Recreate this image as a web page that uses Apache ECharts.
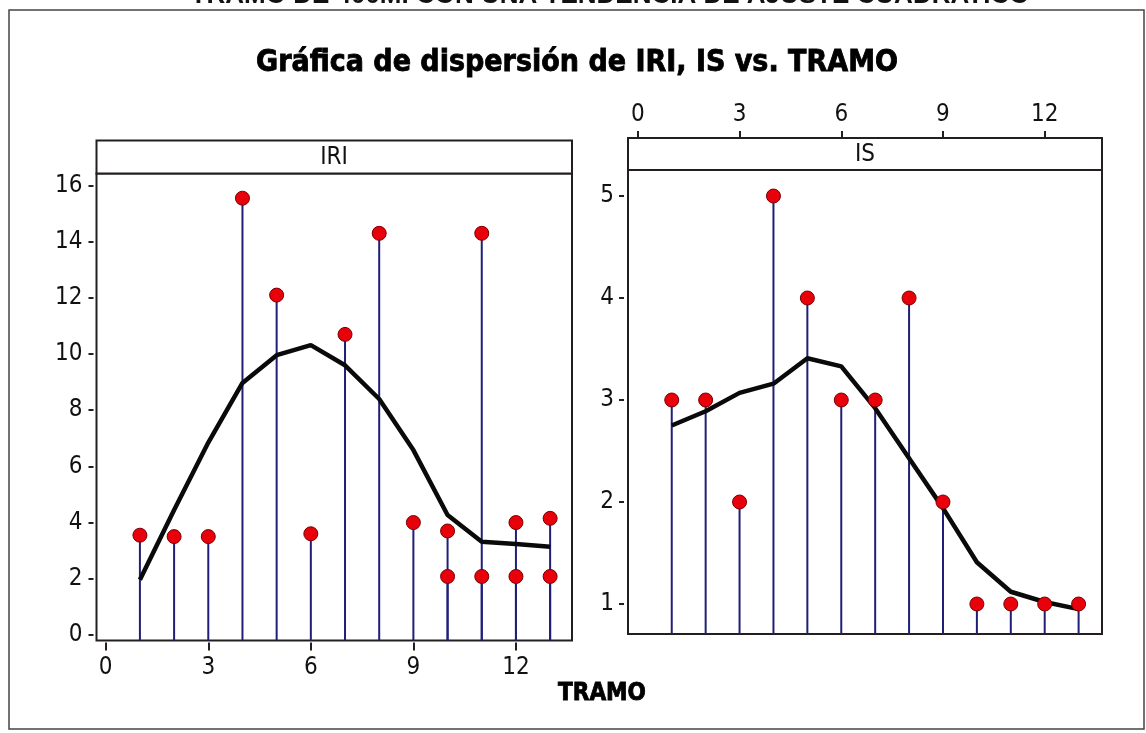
<!DOCTYPE html>
<html>
<head>
<meta charset="utf-8">
<script src="https://cdn.jsdelivr.net/npm/echarts@6/dist/echarts.min.js"></script>
<style>
html,body{margin:0;padding:0;background:#fff;}
#chart{width:1146px;height:733px;}
</style>
</head>
<body>
<div id="chart"></div>
<script>
// ---- data ----
const tramo = [1,2,3,4,5,6,7,8,9,10,11,12,13];
const iriObs1 = [3.55,3.5,3.5,15.55,12.1,3.6,10.7,14.3,4.0,3.7,14.3,4.0,4.15];
const iriObs2Tramo = [10,11,12,13];
const iriObs2 = [2.08,2.08,2.08,2.08];
const iriFit = [1.96,4.45,6.85,8.97,9.96,10.32,9.6,8.4,6.58,4.27,3.32,3.24,3.14];
const isObs = [3,3,2,5,4,3,3,4,2,1,1,1,1];
const isFit = [2.75,2.89,3.07,3.16,3.41,3.33,2.92,2.43,1.94,1.41,1.12,1.02,0.95];
const xTicks = [0,3,6,9,12];
const iriTicks = [0,2,4,6,8,10,12,14,16];
const isTicks = [1,2,3,4,5];
const panelNames = ['IRI','IS'];
const mainTitle = 'Gráfica de dispersión de IRI, IS vs. TRAMO';
const topText = 'TRAMO DE 400M. CON UNA TENDENCIA DE AJUSTE CUADRATICO';
const xName = 'TRAMO';

// ---- style ----
const FONT = "'DejaVu Sans Condensed', 'DejaVu Sans', sans-serif";
const INK = '#231f20';
const STEM = '#1f1f78';
const IRI_MIN = -0.2, IRI_MAX = 16.43;
const IS_MIN = 0.706, IS_MAX = 5.255;

const iriPts = tramo.map((t,i)=>[t, iriObs1[i]]).concat(iriObs2Tramo.map((t,i)=>[t, iriObs2[i]]));
const isPts = tramo.map((t,i)=>[t, isObs[i]]);

function stemRenderer(ymin){
  return function(params, api){
    const top = api.coord([api.value(0), api.value(1)]);
    const bot = api.coord([api.value(0), ymin]);
    return {type:'line', shape:{x1:bot[0], y1:bot[1], x2:top[0], y2:top[1]},
            style:{stroke:STEM, lineWidth:2}};
  };
}

const tickStyle = {color:INK, width:2};
const labelStyle = {fontSize:24, color:'#111', fontFamily:FONT};
const noLine = {show:false, onZero:false};

const chart = echarts.init(document.getElementById('chart'), null, {renderer:'canvas'});
chart.setOption({
  animation:false,
  backgroundColor:'#fff',
  grid:[
    {left:96.5, top:173.5, width:475.5, height:467, show:true, borderColor:INK, borderWidth:2, backgroundColor:'transparent', containLabel:false, outerBoundsMode:'none'},
    {left:628, top:170, width:474, height:464, show:true, borderColor:INK, borderWidth:2, backgroundColor:'transparent', containLabel:false, outerBoundsMode:'none'}
  ],
  xAxis:[
    {gridIndex:0, type:'value', min:-0.27, max:13.64, position:'bottom', offset:2,
     axisLine:noLine, splitLine:{show:false},
     axisTick:{show:true, inside:false, length:8, lineStyle:tickStyle, customValues:xTicks},
     axisLabel:Object.assign({customValues:xTicks, margin:13}, labelStyle)},
    {gridIndex:1, type:'value', min:-0.29, max:13.69, position:'top', offset:33,
     axisLine:noLine, splitLine:{show:false},
     axisTick:{show:true, inside:false, length:6, lineStyle:tickStyle, customValues:xTicks},
     axisLabel:Object.assign({customValues:xTicks, margin:10}, labelStyle)}
  ],
  yAxis:[
    {gridIndex:0, type:'value', min:IRI_MIN, max:IRI_MAX, position:'left', offset:3,
     axisLine:noLine, splitLine:{show:false},
     axisTick:{show:true, inside:false, length:5, lineStyle:tickStyle, customValues:iriTicks},
     axisLabel:Object.assign({customValues:iriTicks, margin:11}, labelStyle)},
    {gridIndex:1, type:'value', min:IS_MIN, max:IS_MAX, position:'left', offset:4,
     axisLine:noLine, splitLine:{show:false},
     axisTick:{show:true, inside:false, length:5, lineStyle:tickStyle, customValues:isTicks},
     axisLabel:Object.assign({customValues:isTicks, margin:10}, labelStyle)}
  ],
  series:[
    {type:'custom', xAxisIndex:0, yAxisIndex:0, data:iriPts, renderItem:stemRenderer(IRI_MIN), z:1, silent:true},
    {type:'line', xAxisIndex:0, yAxisIndex:0, data:tramo.map((t,i)=>[t, iriFit[i]]), symbol:'none',
     lineStyle:{color:'#0a0a0a', width:4.5}, z:2},
    {type:'scatter', xAxisIndex:0, yAxisIndex:0, data:iriPts, symbol:'circle', symbolSize:14,
     itemStyle:{color:'#e8000b', borderColor:'#7a0000', borderWidth:1, opacity:1}, z:3},
    {type:'custom', xAxisIndex:1, yAxisIndex:1, data:isPts, renderItem:stemRenderer(IS_MIN), z:1, silent:true},
    {type:'line', xAxisIndex:1, yAxisIndex:1, data:tramo.map((t,i)=>[t, isFit[i]]), symbol:'none',
     lineStyle:{color:'#0a0a0a', width:4.5}, z:2},
    {type:'scatter', xAxisIndex:1, yAxisIndex:1, data:isPts, symbol:'circle', symbolSize:14,
     itemStyle:{color:'#e8000b', borderColor:'#7a0000', borderWidth:1, opacity:1}, z:3}
  ],
  graphic:[
    {type:'rect', shape:{x:9, y:10, width:1135, height:719}, style:{fill:'none', stroke:'#444', lineWidth:1.5}, z:0, silent:true},
    {type:'text', x:610, y:-4, style:{text:topText, fill:'#111', font:"bold 26px 'Liberation Sans', Arial, sans-serif", textAlign:'center', textVerticalAlign:'middle'}, silent:true},
    {type:'text', x:577, y:63, style:{text:mainTitle, fill:'#000', font:"bold 30px " + FONT, textAlign:'center', textVerticalAlign:'middle', stroke:'#000', lineWidth:0.8}, silent:true},
    {type:'rect', shape:{x:96.5, y:140.5, width:475.5, height:33}, style:{fill:'#fff', stroke:INK, lineWidth:2}, silent:true},
    {type:'text', x:334, y:157.5, style:{text:panelNames[0], fill:'#111', font:"24px " + FONT, textAlign:'center', textVerticalAlign:'middle'}, silent:true},
    {type:'rect', shape:{x:628, y:138, width:474, height:32}, style:{fill:'#fff', stroke:INK, lineWidth:2}, silent:true},
    {type:'text', x:865, y:154.5, style:{text:panelNames[1], fill:'#111', font:"24px " + FONT, textAlign:'center', textVerticalAlign:'middle'}, silent:true},
    {type:'text', x:602, y:694, style:{text:xName, fill:'#000', font:"bold 24px " + FONT, textAlign:'center', textVerticalAlign:'middle', stroke:'#000', lineWidth:0.8}, silent:true}
  ]
});
</script>
</body>
</html>
